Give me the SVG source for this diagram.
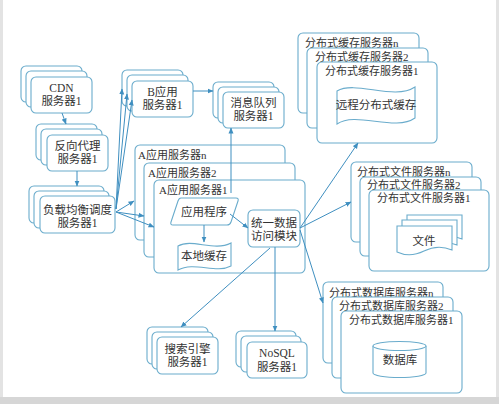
<svg xmlns="http://www.w3.org/2000/svg" width="499" height="404" viewBox="0 0 499 404">
<defs>
<style>
.b{fill:#fff;stroke:#6aaccc;stroke-width:1.1}
.c{fill:none;stroke:#3f8fc0;stroke-width:1;marker-end:url(#ah)}
.t{font-family:"Liberation Serif","Noto Sans CJK SC",serif;font-size:11.5px;fill:#333;text-anchor:middle}
.l{font-family:"Liberation Serif","Noto Sans CJK SC",serif;font-size:11px;fill:#333}
</style>
<marker id="ah" markerWidth="6" markerHeight="6" refX="5.5" refY="3" orient="auto" markerUnits="userSpaceOnUse">
<path d="M0,0.5 L6,3 L0,5.5 Z" fill="#3f8fc0"/>
</marker>
</defs>
<rect width="499" height="404" fill="#fff"/>
<rect x="0" y="0" width="3" height="404" fill="#e3e3e3"/>
<rect x="496" y="0" width="3" height="404" fill="#e3e3e3"/>
<rect x="0" y="397" width="499" height="7" fill="#d6d6d6"/>

<g id="cdn">
<rect class="b" x="21" y="66" width="61" height="36" rx="5"/>
<rect class="b" x="26" y="71" width="61" height="36" rx="5"/>
<rect class="b" x="31" y="77" width="61" height="36" rx="5"/>
<text class="t" x="61.5" y="92">CDN</text>
<text class="t" x="61.5" y="105">服务器1</text>
</g>
<g id="proxy">
<rect class="b" x="36" y="124" width="61" height="36" rx="5"/>
<rect class="b" x="41" y="129" width="61" height="36" rx="5"/>
<rect class="b" x="47" y="135" width="61" height="36" rx="5"/>
<text class="t" x="77.5" y="150">反向代理</text>
<text class="t" x="77.5" y="163">服务器1</text>
</g>
<g id="lb">
<rect class="b" x="29" y="186" width="75" height="37" rx="5"/>
<rect class="b" x="34" y="191" width="75" height="37" rx="5"/>
<rect class="b" x="40" y="196" width="75" height="37" rx="5"/>
<text class="t" x="77.5" y="214">负载均衡调度</text>
<text class="t" x="77.5" y="227">服务器1</text>
</g>
<g id="bapp">
<rect class="b" x="122" y="70" width="61" height="36" rx="5"/>
<rect class="b" x="127" y="75" width="61" height="36" rx="5"/>
<rect class="b" x="132" y="81" width="61" height="36" rx="5"/>
<text class="t" x="162.5" y="96">B应用</text>
<text class="t" x="162.5" y="109">服务器1</text>
</g>
<g id="mq">
<rect class="b" x="213" y="82" width="61" height="36" rx="5"/>
<rect class="b" x="218" y="87" width="61" height="36" rx="5"/>
<rect class="b" x="223" y="92" width="61" height="36" rx="5"/>
<text class="t" x="253.5" y="107">消息队列</text>
<text class="t" x="253.5" y="120">服务器1</text>
</g>
<g id="aapp">
<rect class="b" x="135" y="145" width="150" height="95" rx="5"/>
<text class="l" x="138" y="159">A应用服务器n</text>
<rect class="b" x="144" y="163" width="151" height="94" rx="5"/>
<text class="l" x="148" y="177">A应用服务器2</text>
<rect class="b" x="154" y="180" width="151" height="93" rx="5"/>
<text class="l" x="159" y="194">A应用服务器1</text>
<path class="b" d="M181,198 H236 Q239,198 238,201 L231,222 Q230,225 227,225 H173 Q170,225 171,222 L178,201 Q179,198 181,198 Z"/>
<text class="t" x="204" y="216">应用程序</text>
<path class="b" d="M178,246 C192,238 214,252 231,243 L231,266 C216,274 194,261 178,270 Z"/>
<text class="t" x="204" y="260">本地缓存</text>
<rect class="b" x="248" y="210" width="52" height="37" rx="5"/>
<text class="t" x="274" y="227">统一数据</text>
<text class="t" x="274" y="240">访问模块</text>
</g>
<g id="cache">
<rect class="b" x="298" y="33" width="121" height="80" rx="5"/>
<text class="l" x="305" y="47">分布式缓存服务器n</text>
<rect class="b" x="307" y="48" width="121" height="80" rx="5"/>
<text class="l" x="315" y="61">分布式缓存服务器2</text>
<rect class="b" x="317" y="62" width="120" height="81" rx="5"/>
<text class="l" x="325" y="75">分布式缓存服务器1</text>
<path class="b" d="M337,91 C356,80 394,101 415,87 L415,118 C395,132 356,111 337,124 Z"/>
<text class="t" x="376" y="109">远程分布式缓存</text>
</g>
<g id="file">
<rect class="b" x="351" y="162" width="121" height="80" rx="5"/>
<text class="l" x="357" y="176">分布式文件服务器n</text>
<rect class="b" x="360" y="177" width="121" height="79" rx="5"/>
<text class="l" x="367" y="189">分布式文件服务器2</text>
<rect class="b" x="369" y="190" width="120" height="81" rx="5"/>
<text class="l" x="377" y="202">分布式文件服务器1</text>
<path class="b" d="M407,215 H462 V239 Q450,234 440,240 L407,240 Z"/>
<path class="b" d="M402,220 H457 V245 Q444,240 432,246 L402,246 Z"/>
<path class="b" d="M397,226 H452 V250 Q438,244 424,251 Q410,258 397,252 Z"/>
<text class="t" x="424" y="245">文件</text>
</g>
<g id="db">
<rect class="b" x="323" y="282" width="120" height="81" rx="5"/>
<text class="l" x="329" y="297">分布式数据库服务器n</text>
<rect class="b" x="332" y="297" width="121" height="81" rx="5"/>
<text class="l" x="339" y="310">分布式数据库服务器2</text>
<rect class="b" x="341" y="311" width="121" height="82" rx="5"/>
<text class="l" x="349" y="324">分布式数据库服务器1</text>
<path class="b" d="M373,346 A26.5,4.5 0 0 1 426,346 V373 A26.5,4.5 0 0 1 373,373 Z"/>
<path class="b" d="M373,346 A26.5,4.5 0 0 0 426,346" fill="none"/>
<text class="t" x="400" y="364">数据库</text>
</g>
<g id="search">
<rect class="b" x="147" y="327" width="61" height="37" rx="5"/>
<rect class="b" x="152" y="332" width="61" height="37" rx="5"/>
<rect class="b" x="157" y="337" width="61" height="37" rx="5"/>
<text class="t" x="187.5" y="353">搜索引擎</text>
<text class="t" x="187.5" y="366">服务器1</text>
</g>
<g id="nosql">
<rect class="b" x="236" y="331" width="60" height="36" rx="5"/>
<rect class="b" x="241" y="336" width="60" height="36" rx="5"/>
<rect class="b" x="247" y="342" width="60" height="36" rx="5"/>
<text class="t" x="277" y="357">NoSQL</text>
<text class="t" x="277" y="371">服务器1</text>
</g>
<g id="connectors">
<path class="c" d="M62,113 L66,124"/>
<path class="c" d="M77,171 L77,186"/>
<path class="c" d="M116,209 L122,89"/>
<path class="c" d="M116,209 L127,94"/>
<path class="c" d="M116,209 L132,100"/>
<path class="c" d="M116,212 L134,201"/>
<path class="c" d="M116,212 L144,216"/>
<path class="c" d="M116,212 L154,227"/>
<path class="c" d="M193,91 L213,91"/>
<path class="c" d="M231,193 L231,128"/>
<path class="c" d="M204,225 L204,242"/>
<path class="c" d="M230,214 L248,228"/>
<path class="c" d="M300,228 L358,143"/>
<path class="c" d="M300,228 L351,202"/>
<path class="c" d="M300,230 L323,303"/>
<path class="c" d="M275,247 L275,331"/>
<path class="c" d="M270,248 L181,327"/>
</g>
</svg>
